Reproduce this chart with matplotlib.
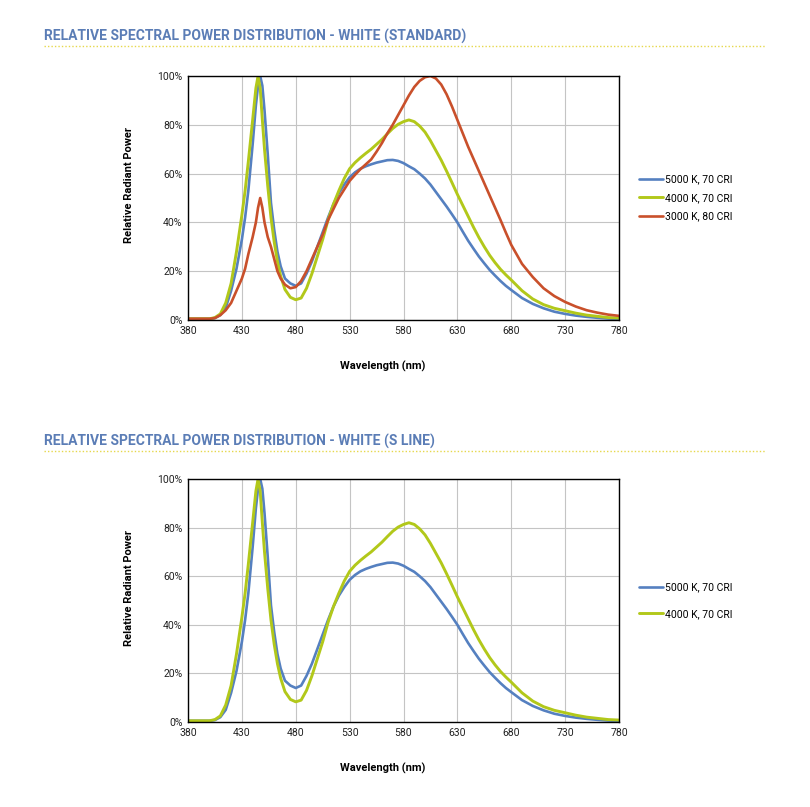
import matplotlib
matplotlib.use("Agg")
from matplotlib import pyplot as plt
from matplotlib.ticker import PercentFormatter

# wavelength sample points (nm)
wl = ([380, 390, 400, 405, 410, 415, 420, 425, 430, 433, 436, 440, 443, 445, 447,
       449, 451, 454, 457, 460, 463, 466, 470, 475, 480, 485, 490, 495, 500, 505]
      + list(range(510, 681, 5))
      + [690, 700, 710, 720, 730, 740, 750, 760, 770, 780])

# relative power (%)
cool_5000 = [0.5, 0.5, 0.5, 0.8, 2, 5, 12, 21, 33, 42, 53, 72, 88, 96, 100,
             96, 86, 68, 48, 37, 28, 22, 17, 15, 14, 15, 19, 24, 30, 36,
             42, 47.5, 52, 55.5, 58.5, 60.5, 62, 63, 63.8, 64.5, 65, 65.5, 65.6, 65.2,
             64.3, 63, 61.8, 60, 58, 55.5, 52.5, 49.5, 46.5, 43.3, 40, 36.2, 32.5,
             29.2, 26, 23.2, 20.5, 18.2, 16, 14, 12.3,
             9, 6.6, 4.8, 3.4, 2.5, 1.8, 1.3, 0.9, 0.6, 0.4]

neutral_4000 = [0.5, 0.5, 0.5, 1, 2.5, 7, 15, 28, 43, 53, 65, 82, 95, 100, 95,
                82, 70, 55, 42, 32, 24, 18, 12.5, 9.3, 8.3, 9, 13, 19, 26, 33,
                41, 47.5, 53, 58, 62, 64.5, 66.5, 68.3, 70, 72, 74, 76.3, 78.5, 80.2,
                81.3, 82, 81.3, 79.5, 77, 73.5, 69.5, 65.5, 61, 56.3, 51.5, 47, 42.5,
                38, 33.8, 30, 26.5, 23.5, 20.8, 18.5, 16.4,
                12, 8.6, 6.3, 4.8, 3.8, 2.8, 2, 1.5, 1, 0.8]

warm_3000 = [0.5, 0.5, 0.5, 0.8, 2, 4, 7, 12, 17, 21, 27, 34, 40, 46, 50,
             46, 40, 34, 30, 25, 20, 17, 14.5, 13, 13.5, 16, 20, 25, 30, 35,
             41, 45.5, 50, 53.5, 57, 59.5, 61.8, 63.8, 65.8, 69, 72.5, 76.5, 80, 84,
             88, 92, 95.5, 98, 99.5, 100, 99, 96.5, 92.5, 87.5, 82, 76.5, 71,
             66, 61, 56, 51, 46, 41, 35.8, 30.8,
             23, 17.6, 13, 9.8, 7.4, 5.5, 4, 3, 2.2, 1.7]

labels = ["5000 K, 70 CRI", "4000 K, 70 CRI", "3000 K, 80 CRI"]
colors = ["#5580C0", "#B2C81A", "#C9502B"]

title_top = "RELATIVE SPECTRAL POWER DISTRIBUTION - WHITE (STANDARD)"
title_bottom = "RELATIVE SPECTRAL POWER DISTRIBUTION - WHITE (S LINE)"

plt.rcParams['font.family'] = ['Roboto', 'DejaVu Sans']

fig = plt.figure(figsize=(8.1, 8.07), dpi=100)


def draw_panel(rect, series, title, title_y, spacing):
    ax = fig.add_axes(rect)
    for vals, lab, col in series:
        ax.plot(wl, vals, color=col, lw=2.1 if col == colors[1] else 1.9,
                label=lab, solid_capstyle="round", solid_joinstyle="round")
    ax.set_xlim(380, 780)
    ax.set_ylim(0, 100)
    ax.set_xticks(range(380, 781, 50))
    ax.set_yticks(range(0, 101, 20))
    ax.yaxis.set_major_formatter(PercentFormatter(decimals=0))
    ax.grid(True, color="#c4c4c4", lw=0.8)
    ax.set_axisbelow(True)
    for s in ax.spines.values():
        s.set_color("black")
        s.set_linewidth(1.0)
    ax.tick_params(length=0, labelsize=7.5, pad=4, colors="#222222")
    ax.set_xlabel("Wavelength (nm)", fontsize=8, fontweight="bold")
    ax.set_ylabel("Relative Radiant Power", fontsize=8, fontweight="bold")
    ax.xaxis.set_label_coords(0.452, -0.168)
    ax.yaxis.set_label_coords(-0.125, 0.552)
    ax.legend(loc="center left", bbox_to_anchor=(1.035, 0.5), frameon=False,
              fontsize=7.5, handlelength=2.3, handletextpad=0.2,
              labelspacing=spacing, borderpad=0)
    fig.text(44 / 810, 1 - title_y / 807, title, fontsize=10, fontweight="bold",
             color="#5B7DB6", va="center", ha="left")
    fig.add_artist(plt.Line2D([44 / 810, 765 / 810],
                              [1 - (title_y + 10) / 807] * 2,
                              color="#E6D84C", lw=1.0, ls=(0, (1, 1.5))))
    return ax


draw_panel([188 / 810, 1 - 320 / 807, 431 / 810, 244 / 807],
           list(zip([cool_5000, neutral_4000, warm_3000], labels, colors)),
           title_top, 36, 0.8)

draw_panel([188 / 810, 1 - 722 / 807, 431 / 810, 243 / 807],
           list(zip([cool_5000, neutral_4000], labels[:2], colors[:2])),
           title_bottom, 441, 1.6)

fig.savefig("out.png", dpi=100)
